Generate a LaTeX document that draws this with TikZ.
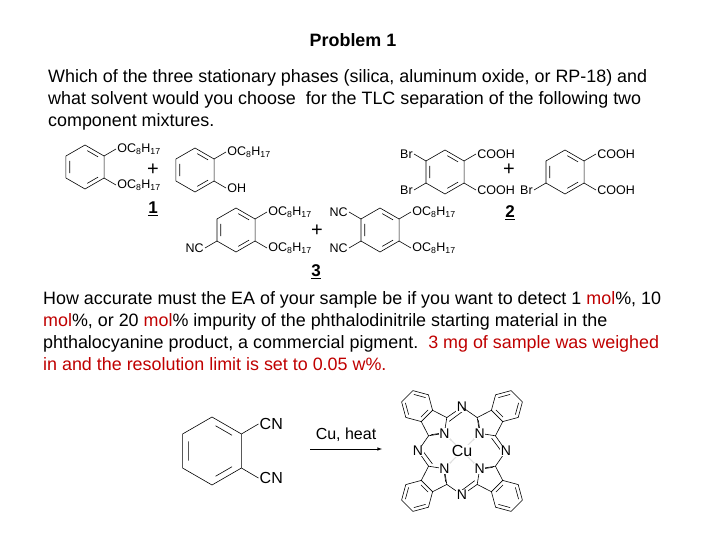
\documentclass[tikz,border=0pt]{standalone}
\usepackage{fontspec}
\setmainfont{Liberation Sans}
\usepackage{xcolor}
\definecolor{dred}{RGB}{192,0,0}
\newcommand\subf{\fontsize{12.5}{13}\selectfont}
\newcommand\OC{OC\textsubscript{8}H\textsubscript{17}}
\newcommand\ring[3]{\draw[bond] (#1,#2) +(30:#3)--+(90:#3)--+(150:#3)--+(210:#3)--+(270:#3)--+(330:#3)--cycle;
 \draw[bond] (#1,#2) +(38:0.75*#3)--+(82:0.75*#3) +(158:0.75*#3)--+(202:0.75*#3) +(278:0.75*#3)--+(322:0.75*#3);}
\newcommand\UR[3]{\draw[bond] (#1,#2) ++(19,-11) -- ++(12,-7) node[right,inner sep=1pt,font=\subf]{#3};}
\newcommand\LR[3]{\draw[bond] (#1,#2) ++(19,11) -- ++(12,7) node[right,inner sep=1pt,font=\subf]{#3};}
\newcommand\UL[3]{\draw[bond] (#1,#2) ++(-19,-11) -- ++(-12,-7) node[left,inner sep=1pt,font=\subf]{#3};}
\newcommand\LL[3]{\draw[bond] (#1,#2) ++(-19,11) -- ++(-12,7) node[left,inner sep=1pt,font=\subf]{#3};}
\begin{document}
\begin{tikzpicture}[x=1pt,y=-1pt,bond/.style={line width=0.6pt},
 txt/.style={anchor=north west,align=left,inner sep=0,font=\fontsize{17.9}{22}\selectfont},
 num/.style={font=\fontsize{17}{18}\selectfont\bfseries},
 plus/.style={font=\fontsize{20}{20}\selectfont},
 atom/.style={fill=white,inner sep=0.6pt,font=\fontsize{14}{14}\selectfont}]
\useasboundingbox[fill=white] (0,0) rectangle (720,540);
\node[font=\fontsize{17.9}{20}\selectfont\bfseries] (title) at (353,40) {Problem 1};
\node[txt] (q1) at (48,69) {Which of the three stationary phases (silica, aluminum oxide, or RP-18) and\\what solvent would you choose\ \ for the TLC separation of the following two\\component mixtures.};
% mixture 1
\ring{85}{167}{22}\UR{85}{167}{\OC}\LR{85}{167}{\OC}
\node[plus] (p1) at (153,170) {+};
\ring{195}{170}{22}\UR{195}{170}{\OC}\LR{195}{170}{OH}
\node[num] (n1) at (153,209) {\underline{1}};
% mixture 2
\ring{445}{172}{22}\UL{445}{172}{Br}\LL{445}{172}{Br}\UR{445}{172}{COOH}\LR{445}{172}{COOH}
\node[plus] (p2) at (509,170) {+};
\ring{565}{172}{22}\UR{565}{172}{COOH}\LR{565}{172}{COOH}\LL{565}{172}{Br}
\node[num] (n2) at (510,213) {\underline{2}};
% mixture 3
\ring{236}{230}{22}\UR{236}{230}{\OC}\LR{236}{230}{\OC}\LL{236}{230}{NC}
\node[plus] (p3) at (317,231) {+};
\ring{380}{230}{22}\UL{380}{230}{NC}\LL{380}{230}{NC}\UR{380}{230}{\OC}\LR{380}{230}{\OC}
\node[num] (n3) at (316,272) {\underline{3}};
\node[txt] (q2) at (43,291) {How accurate must the EA of your sample be if you want to detect 1 \textcolor{dred}{mol}\%, 10\\\textcolor{dred}{mol}\%, or 20 \textcolor{dred}{mol}\% impurity of the phthalodinitrile starting material in the\\phthalocyanine product, a commercial pigment.\ \ \textcolor{dred}{3 mg of sample was weighed}\\\textcolor{dred}{in and the resolution limit is set to 0.05 w\%.}};
% phthalonitrile
\ring{212}{451}{34}
\draw[bond] (212,451) ++(29.4,-17) -- ++(17,-10) node[right,inner sep=1pt,font=\fontsize{16}{16}\selectfont] (cn1) {CN};
\draw[bond] (212,451) ++(29.4,17) -- ++(17,10) node[right,inner sep=1pt,font=\fontsize{16}{16}\selectfont] (cn2) {CN};
\coordinate (a1) at (310,449); \coordinate (a2) at (382,449);
\draw[line width=0.6pt,-latex] (a1) -- node[above=4pt,font=\fontsize{16}{16}\selectfont] {Cu, heat} (a2);
% phthalocyanine
\foreach \r in {45,135,225,315}{
 \begin{scope}[shift={(462,451)},rotate=\r]
  \draw[bond] (0,-25)--(-12.9,-34.4)--(-8,-49.6)--(8,-49.6)--(12.9,-34.4)--cycle;
  \draw[bond] (-8,-49.6)--(-16,-63.5)--(-8,-77.4)--(8,-77.4)--(16,-63.5)--(8,-49.6);
  \draw[bond] (-12,-63.5)--(-6,-74) (6,-74)--(12,-63.5) (-5,-53)--(5,-53);
  \draw[bond] (-12.9,-34.4)--(-31.1,-31.1) (12.9,-34.4)--(31.1,-31.1);
  \draw[bond] (12,-30)--(29,-27.5);
  \draw[bond] (-3,-28)--(-10.5,-33.5);
  \draw[densely dotted] (0,0)--(0,-22);
  \node[atom] at (0,-25) {N};
  \node[atom] at (31.1,-31.1) {N};
 \end{scope}}
\node[atom,font=\fontsize{16}{16}\selectfont] (cu) at (462,451) {Cu};
\end{tikzpicture}
\end{document}
